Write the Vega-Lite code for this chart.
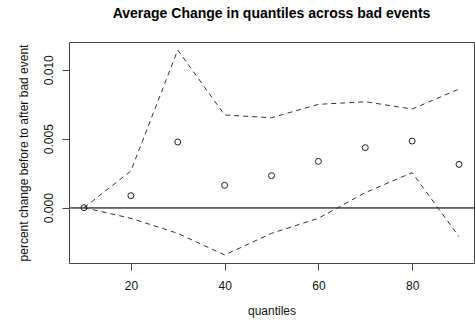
{
  "$schema": "https://vega.github.io/schema/vega-lite/v6.json",
  "width": 405,
  "height": 221,
  "autosize": {"type": "none"},
  "padding": {"left": 69, "top": 42, "right": 1, "bottom": 59},
  "background": "white",
  "config": {
    "font": "Liberation Sans",
    "view": {"stroke": "#444", "strokeWidth": 1},
    "axis": {"grid": false, "domain": false, "tickColor": "#444", "tickSize": 7, "labelFont": "Liberation Sans", "labelFontSize": 12, "labelColor": "#111", "titleFont": "Liberation Sans", "titleFontSize": 12, "titleFontWeight": "normal", "titleColor": "#111"}
  },
  "title": {"text": "Average Change in quantiles across bad events", "fontSize": 14, "fontWeight": "bold", "font": "Liberation Sans", "anchor": "middle", "offset": 21, "color": "#000"},
  "data": {"values": [
    {"q": 10, "mean": 0.0, "upper": 0.0, "lower": 0.0},
    {"q": 20, "mean": 0.00087, "upper": 0.00266, "lower": -0.00077},
    {"q": 30, "mean": 0.00476, "upper": 0.01143, "lower": -0.00186},
    {"q": 40, "mean": 0.00162, "upper": 0.00672, "lower": -0.00343},
    {"q": 50, "mean": 0.00232, "upper": 0.00652, "lower": -0.00186},
    {"q": 60, "mean": 0.00336, "upper": 0.00749, "lower": -0.00077},
    {"q": 70, "mean": 0.00435, "upper": 0.00768, "lower": 0.00109},
    {"q": 80, "mean": 0.00483, "upper": 0.00715, "lower": 0.00254},
    {"q": 90, "mean": 0.00314, "upper": 0.0086, "lower": -0.0021}
  ]},
  "encoding": {
    "x": {"field": "q", "type": "quantitative", "scale": {"domain": [6.8, 93.2], "nice": false, "zero": false},
      "axis": {"values": [20, 40, 60, 80], "title": "quantiles", "labelPadding": 10, "titlePadding": 14}}
  },
  "layer": [
    {
      "mark": {"type": "rule", "color": "#666", "strokeWidth": 1},
      "encoding": {"x": null, "y": {"datum": 0, "type": "quantitative"}}
    },
    {
      "mark": {"type": "line", "color": "#333", "strokeWidth": 1, "strokeDash": [5, 4]},
      "encoding": {"y": {"field": "upper", "type": "quantitative", "scale": {"domain": [-0.00401, 0.01201], "nice": false, "zero": false},
        "axis": {"values": [0, 0.005, 0.01], "format": ".3f", "title": "percent change before to after bad event", "labelAngle": -90, "labelAlign": "center", "labelBaseline": "bottom", "labelPadding": 6.5, "titlePadding": 12}}}
    },
    {
      "mark": {"type": "line", "color": "#333", "strokeWidth": 1, "strokeDash": [5, 4]},
      "encoding": {"y": {"field": "lower", "type": "quantitative"}}
    },
    {
      "mark": {"type": "point", "shape": "circle", "filled": false, "size": 36, "color": "#222", "strokeWidth": 1, "opacity": 1},
      "encoding": {"y": {"field": "mean", "type": "quantitative"}}
    }
  ]
}
